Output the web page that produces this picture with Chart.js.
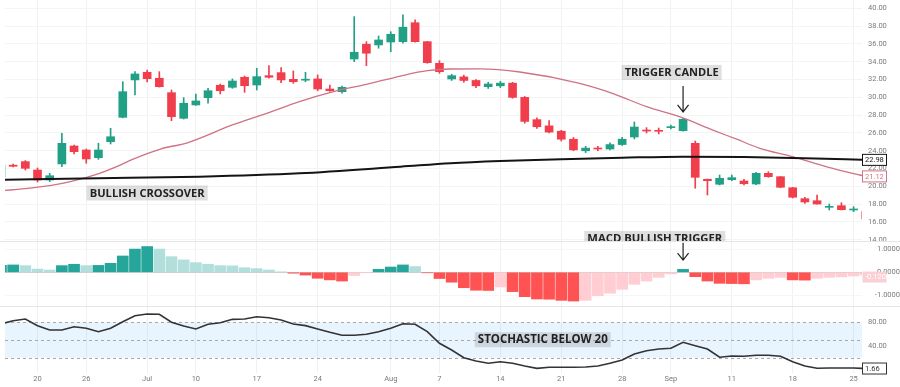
<!DOCTYPE html>
<html>
<head>
<meta charset="utf-8">
<title>Price, MACD and Stochastic</title>
<script src="https://cdn.jsdelivr.net/npm/chart.js@4.4.1/dist/chart.umd.min.js"></script>
<style>
  html, body { margin: 0; padding: 0; background: #fff; }
  #wrap { position: relative; width: 900px; height: 387px; overflow: hidden; }
  #wrap canvas { position: absolute; left: 0; }
</style>
</head>
<body>
<div id="wrap">
  <canvas id="price" width="900" height="241" style="top:0"></canvas>
  <canvas id="macd" width="900" height="65" style="top:241px"></canvas>
  <canvas id="stoch" width="900" height="81" style="top:306px"></canvas>
</div>
<script>
// trading days Jun 14 .. Sep 26 2023, index 0..71
const tickIdx = [3, 7, 12, 16, 21, 26, 32, 36, 41, 46, 51, 55, 60, 65, 70];
const tickLabels = ['20', '26', 'Jul', '10', '17', '24', 'Aug', '7', '14', '21', '28', 'Sep', '11', '18', '25'];

// candles
const open = [
  21.06, 22.38, 22.78, 21.84, 20.72, 22.52, 24.54, 24.09, 23.22, 25.02,
  27.76, 31.96, 32.82, 32.15, 30.53, 27.65, 29.15, 29.97, 31.36, 31.13,
  32.26, 31.39, 32.44, 32.78, 32.03, 31.93, 32.07, 30.94, 30.64, 34.31,
  35.97, 35.89, 36.22, 36.26, 38.39, 36.26, 33.83, 32.07, 32.3, 31.9,
  31.2, 31.3, 31.6, 30.0, 27.5, 26.8, 26.2, 25.3, 24.0, 24.3,
  24.2, 24.7, 25.55, 26.3, 26.26, 26.6, 26.26, 24.84, 20.8, 20.24,
  20.75, 20.61, 20.27, 21.47, 21.09, 19.85, 18.62, 18.39, 17.65, 17.83,
  17.35, 17.16
];
const high = [
  22.5, 22.52, 22.9, 22.07, 21.47, 25.97, 24.65, 24.2, 24.84, 26.53,
  31.76, 32.89, 33.08, 32.89, 30.83, 29.97, 30.38, 31.02, 31.5, 32.07,
  32.4, 33.27, 33.56, 33.34, 32.97, 32.82, 32.52, 31.39, 31.28, 39.07,
  36.26, 36.9, 37.38, 39.26, 38.7, 36.3, 34.12, 32.6, 32.5, 32.0,
  31.7, 31.8, 31.7, 30.1, 27.7, 27.4, 26.3, 25.5, 24.5, 24.5,
  24.9, 25.5, 27.24, 26.6, 26.56, 26.9, 27.65, 25.1, 20.83, 21.28,
  21.28, 20.8, 21.58, 21.65, 21.1, 19.9, 18.78, 19.03, 18.02, 18.17,
  17.72, 17.2
];
const low = [
  21.0, 22.18, 21.84, 20.49, 20.53, 22.21, 23.64, 22.6, 23.04, 24.76,
  27.7, 30.27, 31.73, 31.15, 27.38, 27.57, 29.1, 29.34, 30.38, 31.02,
  30.57, 30.83, 32.15, 31.65, 31.58, 31.76, 30.75, 30.68, 30.46, 34.01,
  33.56, 35.52, 35.13, 36.08, 36.2, 33.83, 32.71, 31.9, 31.7, 31.1,
  31.0, 31.1, 29.9, 27.1, 26.5, 26.0, 25.1, 24.0, 23.8, 24.0,
  24.1, 24.6, 25.33, 26.0, 25.89, 26.45, 26.2, 19.79, 19.03, 20.16,
  20.64, 20.16, 20.19, 21.02, 19.85, 18.7, 18.1, 17.99, 17.35, 17.35,
  17.16, 16.2
];
const close = [
  22.40, 22.26, 22.03, 20.72, 21.2, 24.84, 23.9, 23.08, 24.09, 25.58,
  30.64, 32.63, 32.1, 31.2, 27.83, 29.34, 29.6, 30.75, 30.75, 31.84,
  31.31, 32.33, 32.26, 31.96, 31.76, 32.03, 30.94, 30.75, 31.13, 35.07,
  34.96, 36.45, 37.09, 37.88, 36.26, 33.9, 32.89, 32.44, 31.9, 31.3,
  31.5, 31.6, 30.0, 27.3, 26.7, 26.1, 25.3, 24.1, 24.3, 24.2,
  24.7, 25.3, 26.67, 26.22, 26.19, 26.67, 27.54, 21.02, 20.64, 20.91,
  20.98, 20.3, 21.47, 21.09, 19.9, 18.78, 18.25, 18.02, 17.72, 17.38,
  17.43, 16.34
];

// moving averages, read at these day positions
const emaIdx = [0, 4, 5.7, 8.1, 9.5, 10.8, 13.1, 15.3, 19, 21.8, 24.5, 27.3, 30, 32.8, 35, 36.9,
  39.3, 42.6, 47.5, 50.2, 53, 55.7, 58.5, 60.4, 62.3, 65, 67.8, 70.5, 71];
const emaVal = [19.5, 20.08, 20.53, 21.47, 22.21, 23.04, 24.2, 24.9, 26.9, 28.2, 29.52, 30.64, 31.47, 32.4, 33.0, 33.19,
  33.2, 32.85, 31.58, 30.46, 28.95, 27.83, 26.3, 25.3, 24.28, 23.34, 22.2, 21.28, 21.12];
const smaIdx = [0, 8, 16.3, 24.5, 32.8, 36.9, 41, 46, 51, 56, 61, 66, 71];
const smaVal = [20.75, 20.91, 21.09, 21.47, 22.21, 22.6, 22.85, 23.06, 23.22, 23.34, 23.3, 23.17, 22.98];

// MACD histogram
const macdHist = [
  0.30, 0.32, 0.29, 0.14, 0.10, 0.29, 0.35, 0.29, 0.30, 0.39,
  0.71, 1.01, 1.12, 1.01, 0.68, 0.54, 0.42, 0.35, 0.29, 0.28,
  0.20, 0.16, 0.10, 0.01, -0.04, -0.12, -0.26, -0.33, -0.38, -0.14,
  -0.02, 0.13, 0.23, 0.32, 0.25, -0.02, -0.27, -0.43, -0.67, -0.78,
  -0.79, -0.64, -0.84, -1.06, -1.16, -1.17, -1.22, -1.25, -1.22, -1.02,
  -0.91, -0.74, -0.52, -0.38, -0.22, -0.07, 0.13, -0.19, -0.38, -0.48,
  -0.49, -0.50, -0.33, -0.26, -0.22, -0.33, -0.34, -0.26, -0.22, -0.20,
  -0.16, -0.12
];

// stochastic %K
const stochK = [
  77, 82.7, 85.6, 74.3, 67, 67, 72.5, 69.8, 64.1, 69.8,
  81, 91.2, 94, 93.5, 80, 73.7, 68.6, 76.6, 79.3, 85,
  85.6, 89.5, 87.8, 83.9, 77.1, 74.3, 68.6, 63, 58, 58,
  59.7, 64.1, 69.8, 77.6, 76.6, 64.1, 44.4, 33, 20, 14.4,
  10.5, 13.2, 10.5, 5.9, 2, 3.7, 3.7, 3.7, 4.2, 5.9,
  10.5, 16.1, 26.3, 31.9, 34.7, 35.9, 46.1, 40.3, 34.7, 20.7,
  22.9, 22.4, 24.1, 24.1, 22.4, 13.2, 5.9, 2, 2.5, 2.5,
  2.5, 1.66
];

const priceTicks = [14, 16, 18, 20, 22, 24, 26, 28, 30, 32, 34, 36, 38, 40];
const macdTicks = [-1, 0, 1];
const stochTicks = [40, 80];
const stochLevels = [20, 50, 80];

// look
const UP = '#22a085', DOWN = '#f03e4d';
const HIST = { upStrong: '#26a69a', upWeak: '#b2dfdb', downWeak: '#ffcdd2', downStrong: '#ff5252' };
const EMA_COLOR = '#cf7285', SMA_COLOR = '#141414';
const AXIS_FONT = { family: 'Roboto', size: 7.5 };
const AXIS_COLOR = '#7a7a7a';
const X_MIN = 0.33, X_MAX = 70.69;

const days = open.map((_, i) => i);
const candleColor = days.map(i => close[i] >= open[i] ? UP : DOWN);
const histColor = macdHist.map((v, i) => {
  const prev = i > 0 ? macdHist[i - 1] : v - 0.01;
  if (v >= 0) return v > prev ? HIST.upStrong : HIST.upWeak;
  return v < prev ? HIST.downStrong : HIST.downWeak;
});

function xScale(showLabels) {
  return {
    type: 'linear', min: X_MIN, max: X_MAX, offset: false,
    grid: { color: '#f1f1f1', drawTicks: false, offset: false },
    border: { display: false },
    afterBuildTicks: s => { s.ticks = tickIdx.map(v => ({ value: v })); },
    ticks: {
      display: showLabels, autoSkip: false, maxRotation: 0, padding: 2,
      font: { family: 'Roboto', size: 7.5 }, color: AXIS_COLOR,
      callback: (v, i) => tickLabels[i]
    },
    afterFit: s => { s.height = showLabels ? 14 : 0; s.paddingLeft = 0; s.paddingRight = 0; }
  };
}

// right axis is 38px wide (labels are clipped to the axis box)
function yScale(min, max, ticks, fmt, extra) {
  return Object.assign({
    position: 'right', min: min, max: max,
    grid: { color: '#f4f4f4', drawTicks: false },
    border: { display: false },
    afterBuildTicks: s => { s.ticks = ticks.map(v => ({ value: v })); },
    ticks: { font: AXIS_FONT, color: AXIS_COLOR, padding: 6, callback: fmt },
    afterFit: s => { s.width = 38; s.paddingTop = 0; s.paddingBottom = 0; }
  }, extra || {});
}

const baseOptions = {
  responsive: false, devicePixelRatio: 1, animation: false, events: [],
  layout: { padding: { left: 5, right: 0, top: 0, bottom: 0 } },
  plugins: { legend: { display: false }, tooltip: { enabled: false } }
};

function tag(ctx, text, cx, cy, textW) {
  ctx.save();
  ctx.font = '700 12px "Open Sans"';
  const size = 12 * textW / ctx.measureText(text).width;
  ctx.font = '700 ' + size.toFixed(2) + 'px "Open Sans"';
  const w = textW + 6, h = 15;
  ctx.fillStyle = 'rgba(110,110,110,0.22)';
  ctx.fillRect(cx - w / 2, cy - h / 2, w, h);
  ctx.fillStyle = '#222';
  ctx.textAlign = 'center';
  ctx.textBaseline = 'middle';
  ctx.fillText(text, cx, cy + 0.5);
  ctx.restore();
}

function arrow(ctx, x, y1, y2) {
  ctx.save();
  ctx.strokeStyle = '#222';
  ctx.lineWidth = 1.2;
  ctx.beginPath();
  ctx.moveTo(x, y1); ctx.lineTo(x, y2);
  ctx.moveTo(x - 5.5, y2 - 7); ctx.lineTo(x, y2); ctx.lineTo(x + 5.5, y2 - 7);
  ctx.stroke();
  ctx.restore();
}

function valueBox(ctx, chart, yPix, text, border, color, fill) {
  const left = chart.chartArea.right;
  ctx.save();
  ctx.fillStyle = fill || '#fff';
  ctx.fillRect(left + 0.5, yPix - 5.5, 24, 11);
  if (border) { ctx.strokeStyle = border; ctx.lineWidth = 1; ctx.strokeRect(left + 0.5, yPix - 5.5, 24, 11); }
  ctx.fillStyle = color;
  ctx.font = '7.5px Roboto';
  ctx.textAlign = 'left';
  ctx.textBaseline = 'middle';
  ctx.fillText(text, left + 3, yPix + 0.5);
  ctx.restore();
}

function separator(chart) {
  const ctx = chart.ctx;
  ctx.save();
  ctx.strokeStyle = '#e6e6e6';
  ctx.lineWidth = 1;
  ctx.beginPath(); ctx.moveTo(0, 0.5); ctx.lineTo(chart.width, 0.5); ctx.stroke();
  ctx.restore();
}

// ---------- price pane ----------
new Chart(document.getElementById('price'), {
  type: 'bar',
  data: {
    datasets: [
      {
        type: 'line', data: smaIdx.map((x, k) => ({ x: x, y: smaVal[k] })),
        borderColor: SMA_COLOR, borderWidth: 2, pointRadius: 0, cubicInterpolationMode: 'monotone', clip: 0, order: 0
      },
      {
        type: 'line', data: emaIdx.map((x, k) => ({ x: x, y: emaVal[k] })),
        borderColor: EMA_COLOR, borderWidth: 1.3, pointRadius: 0, cubicInterpolationMode: 'monotone', clip: 0, order: 1
      },
      {
        data: days.map(i => ({ x: i, y: [low[i], high[i]] })),
        backgroundColor: candleColor, barThickness: 1, grouped: false, clip: 0, order: 3
      },
      {
        data: days.map(i => ({ x: i, y: [open[i], close[i]] })),
        backgroundColor: candleColor, barThickness: 8, minBarLength: 1, grouped: false, clip: 0, order: 2
      }
    ]
  },
  options: Object.assign({}, baseOptions, {
    scales: {
      x: xScale(false),
      y: yScale(13.865, 40.94, priceTicks, v => v.toFixed(2))
    }
  }),
  plugins: [{
    id: 'priceDecor',
    afterDraw(chart) {
      const { ctx, scales: { x, y } } = chart;
      valueBox(ctx, chart, y.getPixelForValue(smaVal[smaVal.length - 1]), smaVal[smaVal.length - 1].toFixed(2), SMA_COLOR, SMA_COLOR);
      valueBox(ctx, chart, y.getPixelForValue(emaVal[emaVal.length - 1]), emaVal[emaVal.length - 1].toFixed(2), EMA_COLOR, EMA_COLOR);
      tag(ctx, 'BULLISH CROSSOVER', x.getPixelForValue(12), y.getPixelForValue(19.26), 115);
      tag(ctx, 'TRIGGER CANDLE', x.getPixelForValue(55.06), y.getPixelForValue(32.8), 94);
      arrow(ctx, x.getPixelForValue(56), y.getPixelForValue(31.28), y.getPixelForValue(28.36));
      tag(ctx, 'MACD BULLISH TRIGGER', x.getPixelForValue(53.68), y.getPixelForValue(14.15), 135);
    }
  }]
});

// ---------- MACD pane ----------
new Chart(document.getElementById('macd'), {
  type: 'bar',
  data: {
    datasets: [{
      data: macdHist.map((v, i) => ({ x: i, y: v })),
      backgroundColor: histColor, barThickness: 11, grouped: false, clip: 0
    }]
  },
  options: Object.assign({}, baseOptions, {
    scales: {
      x: xScale(false),
      y: yScale(-1.465, 1.361, macdTicks, v => v.toFixed(4), {
        grid: { color: '#f6f6f6', drawTicks: false },
        ticks: { font: AXIS_FONT, color: AXIS_COLOR, padding: 0, crossAlign: 'far', callback: v => v.toFixed(4) }
      })
    }
  }),
  plugins: [{
    id: 'macdDecor',
    beforeDatasetsDraw(chart) {
      const { ctx, chartArea, scales: { y } } = chart;
      const y0 = Math.round(y.getPixelForValue(0)) + 0.5;
      ctx.save();
      ctx.strokeStyle = '#cfcfcf';
      ctx.beginPath(); ctx.moveTo(chartArea.left, y0); ctx.lineTo(chartArea.right, y0); ctx.stroke();
      ctx.restore();
    },
    afterDraw(chart) {
      const { ctx, scales: { x, y } } = chart;
      separator(chart);
      const last = macdHist[macdHist.length - 1];
      valueBox(ctx, chart, y.getPixelForValue(last) + 2, last.toFixed(4), null, '#ffffff', '#fbd0d5');
      arrow(ctx, x.getPixelForValue(56), y.getPixelForValue(1.28), y.getPixelForValue(0.53));
    }
  }]
});

// ---------- stochastic pane ----------
new Chart(document.getElementById('stoch'), {
  type: 'line',
  data: {
    datasets: [{
      data: stochK.map((v, i) => ({ x: i, y: v })),
      borderColor: '#333333', borderWidth: 1.6, pointRadius: 0, tension: 0, clip: 0
    }]
  },
  options: Object.assign({}, baseOptions, {
    scales: {
      x: xScale(true),
      y: yScale(-5.93, 107.6, stochTicks, v => v.toFixed(2), {
        grid: { display: false, drawTicks: false }
      })
    }
  }),
  plugins: [{
    id: 'stochDecor',
    beforeDatasetsDraw(chart) {
      const { ctx, chartArea, scales: { y } } = chart;
      const top = y.getPixelForValue(stochLevels[2]), bottom = y.getPixelForValue(stochLevels[0]);
      ctx.save();
      ctx.fillStyle = 'rgba(33,150,243,0.1)';
      ctx.fillRect(chartArea.left, top, chartArea.right - chartArea.left, bottom - top);
      ctx.strokeStyle = '#a8a8a8';
      ctx.lineWidth = 1;
      ctx.setLineDash([3, 3]);
      stochLevels.forEach(v => {
        const py = Math.round(y.getPixelForValue(v)) + 0.5;
        ctx.beginPath(); ctx.moveTo(chartArea.left, py); ctx.lineTo(chartArea.right, py); ctx.stroke();
      });
      ctx.restore();
    },
    afterDraw(chart) {
      const { ctx, scales: { x, y } } = chart;
      separator(chart);
      const last = stochK[stochK.length - 1];
      valueBox(ctx, chart, y.getPixelForValue(last), last.toFixed(2), '#333333', '#333333');
      tag(ctx, 'STOCHASTIC BELOW 20', x.getPixelForValue(44.48), y.getPixelForValue(50.5), 130);
    }
  }]
});
</script>
</body>
</html>
